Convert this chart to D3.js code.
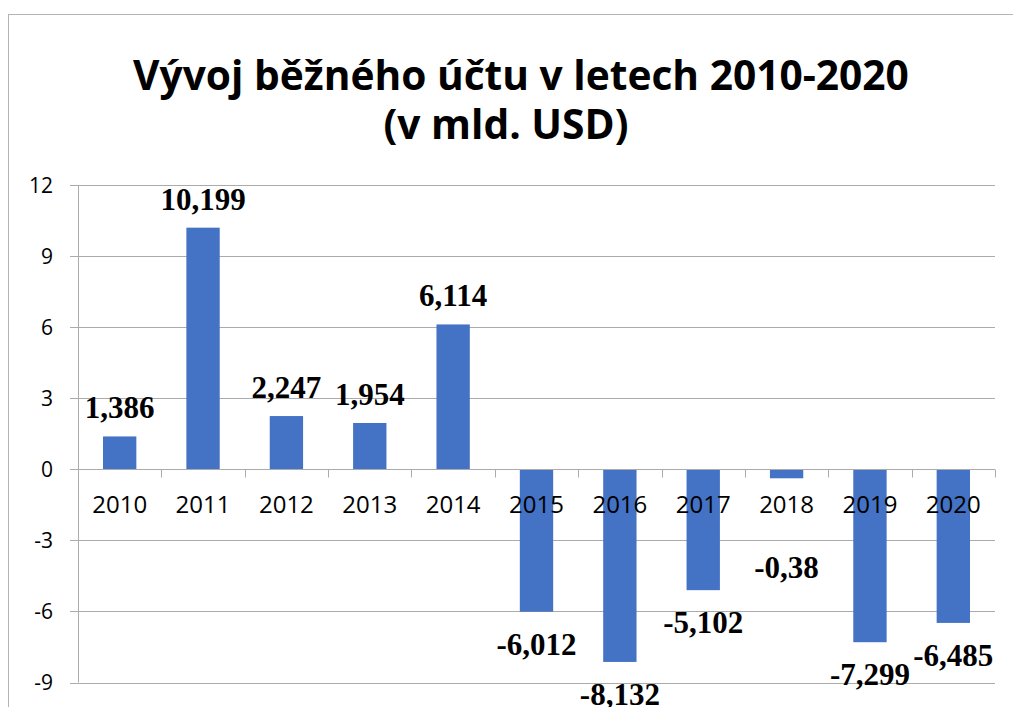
<!DOCTYPE html>
<html>
<head>
<meta charset="utf-8">
<script src="https://cdn.jsdelivr.net/npm/d3@7"></script>
<style>
  html, body { margin: 0; padding: 0; background: #fff; }
  svg { display: block; }
</style>
</head>
<body>
<svg id="chart" width="1013" height="707"></svg>
<script>
// ---- data ----
const titleLines = ["Vývoj běžného účtu v letech 2010-2020", "(v mld. USD)"];
const years = ["2010", "2011", "2012", "2013", "2014", "2015", "2016", "2017", "2018", "2019", "2020"];
const values = [1.386, 10.199, 2.247, 1.954, 6.114, -6.012, -8.132, -5.102, -0.38, -7.299, -6.485];
const yTicks = [-9, -6, -3, 0, 3, 6, 9, 12];

// ---- layout ----
const svg = d3.select("#chart");
const W = 1013, H = 707;
const plot = { left: 78, right: 995, top: 185, bottom: 682.5 };
const barColor = "#4472C4";
const gridColor = "#ababab";

// outer chart border (cropped on right/bottom)
svg.append("rect")
  .attr("x", 8.5).attr("y", 14.5)
  .attr("width", 1200).attr("height", 900)
  .attr("fill", "#fff").attr("stroke", "#b4b4b4").attr("stroke-width", 1);

const x = d3.scaleBand().domain(years)
  .range([plot.left, plot.right])
  .paddingInner(0.6).paddingOuter(0.3);
const y = d3.scaleLinear().domain([-9, 12]).range([plot.bottom, plot.top]);
const step = x.step();

// gridlines + y axis labels
const yAxis = d3.axisLeft(y).tickValues(yTicks)
  .tickSize(-(plot.right - plot.left + 8)).tickPadding(0)
  .tickFormat(d => d);
const gy = svg.append("g").attr("transform", `translate(${plot.left - 8},0)`).call(yAxis);
gy.select(".domain").remove();
gy.selectAll(".tick line").attr("stroke", gridColor).attr("shape-rendering", "crispEdges")
  .attr("x1", 0).attr("x2", plot.right - plot.left + 8);
gy.selectAll(".tick text")
  .attr("x", -17).attr("dy", "0.35em")
  .attr("font-family", "'Open Sans', sans-serif").attr("font-size", 21)
  .attr("fill", "#000").attr("text-anchor", "end");

// vertical axis line
svg.append("line")
  .attr("x1", plot.left + 0.5).attr("x2", plot.left + 0.5)
  .attr("y1", plot.top).attr("y2", plot.bottom)
  .attr("stroke", gridColor);

// bars
svg.append("g").selectAll("rect").data(years).join("rect")
  .attr("x", (d) => x(d))
  .attr("width", x.bandwidth())
  .attr("y", (d, i) => Math.min(y(values[i]), y(0)))
  .attr("height", (d, i) => Math.abs(y(values[i]) - y(0)))
  .attr("fill", barColor);

// category axis at zero
const y0 = Math.round(y(0)) + 0.5;
svg.append("line")
  .attr("x1", plot.left).attr("x2", plot.right)
  .attr("y1", y0).attr("y2", y0).attr("stroke", gridColor);
const boundaries = years.map(d => x(d) - step * 0.3).concat([plot.right]);
svg.append("g").selectAll("line").data(boundaries).join("line")
  .attr("x1", d => Math.round(d) + 0.5).attr("x2", d => Math.round(d) + 0.5)
  .attr("y1", y0).attr("y2", y0 + 8).attr("stroke", gridColor);

const catBaseline = y(0) + 44;
svg.append("g").selectAll("text").data(years).join("text")
  .attr("x", d => x(d) + x.bandwidth() / 2)
  .attr("y", catBaseline)
  .attr("text-anchor", "middle")
  .attr("font-family", "'Open Sans', sans-serif").attr("font-size", 24)
  .attr("fill", "#000")
  .text(d => d);

// data labels
const fmt = v => String(v).replace(".", ",");
svg.append("g").selectAll("text").data(years).join("text")
  .attr("x", d => x(d) + x.bandwidth() / 2)
  .attr("y", (d, i) => {
    const v = values[i];
    if (v >= 0) return y(v) - 18;
    return Math.max(y(v) + 43, catBaseline + 65);
  })
  .attr("text-anchor", "middle")
  .attr("font-family", "'Liberation Serif', 'Times New Roman', serif")
  .attr("font-weight", "bold").attr("font-size", 31)
  .attr("fill", "#000")
  .text((d, i) => fmt(values[i]));

// title
const t1 = svg.append("text").attr("x", 521).attr("y", 90)
  .attr("text-anchor", "middle")
  .attr("font-family", "'Open Sans', sans-serif").attr("font-weight", "bold")
  .attr("font-size", 40).attr("fill", "#000").text(titleLines[0]);
const w1 = t1.node().getComputedTextLength();
const fs = 40 * 776 / w1;
t1.attr("font-size", fs);
svg.append("text").attr("x", 506).attr("y", 139)
  .attr("text-anchor", "middle")
  .attr("font-family", "'Open Sans', sans-serif").attr("font-weight", "bold")
  .attr("font-size", fs).attr("fill", "#000").text(titleLines[1]);
</script>
</body>
</html>
